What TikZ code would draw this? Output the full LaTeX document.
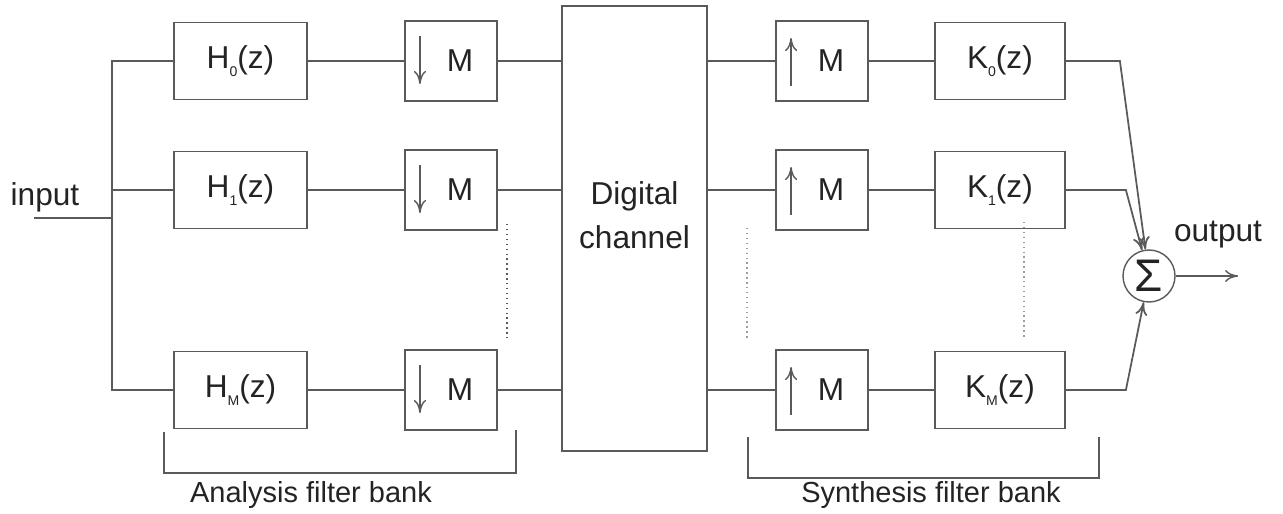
\documentclass[tikz,border=0pt]{standalone}
\usepackage{fontspec}
\setmainfont{Liberation Sans}
\usepackage{xcolor}
\usepackage{tikz}
\usetikzlibrary{positioning}
\usetikzlibrary{arrows.meta}

\definecolor{wire}{RGB}{90,90,90}
\definecolor{ink}{RGB}{35,35,35}
\newcommand{\sbs}[1]{\raisebox{-0.45ex}{\fontsize{8}{8}\selectfont #1}}

\tikzset{
	filt/.style={draw=wire, line width=1.1pt, minimum width=2.66cm, minimum height=1.54cm, inner sep=0pt},
	rate/.style={filt, minimum width=1.84cm, minimum height=1.6cm},
	sum/.style={draw=wire, circle, line width=0.8pt, minimum size=1.04cm, inner sep=0pt, font=\fontsize{26}{26}\selectfont},
	link/.style={draw=wire, line width=1.1pt},
	tip/.style={draw=wire, line width=0.8pt, -{To[length=2.6mm, width=2.4mm]}},
	bank/.style={font=\fontsize{16.5}{20}\selectfont}
}

\begin{document}
\begin{tikzpicture}[font=\fontsize{18}{21}\selectfont, text=ink]
		\useasboundingbox (0,0) rectangle (25.66,-10.28);

		\node[filt] (h0) at (4.81,-1.22) {H\sbs{0}(z)};
		\node[filt] (h1) at (4.81,-3.8) {H\sbs{1}(z)};
		\node[filt] (hM) at (4.81,-7.8) {H\sbs{M}(z)};

		\node[rate] (d0) [right = 1.92cm of h0] {\hspace{0.36cm}M};
		\node[rate] (d1) [right = 1.92cm of h1] {\hspace{0.36cm}M};
		\node[rate] (dM) [right = 1.92cm of hM] {\hspace{0.36cm}M};

		\node[filt, minimum width=2.9cm, minimum height=8.9cm,
			label={[align=center, yshift=0.26cm, font=\fontsize{18}{25}\selectfont]center:Digital\\channel}] (chan) at (12.69,-4.57) {};

		\node[rate] (u0) at (16.44,-1.22) {\hspace{0.36cm}M};
		\node[rate] (u1) at (16.44,-3.8) {\hspace{0.36cm}M};
		\node[rate] (uM) at (16.44,-7.8) {\hspace{0.36cm}M};

		\node[filt, minimum width=2.6cm] (k0) [right = 1.3cm of u0] {K\sbs{0}(z)};
		\node[filt, minimum width=2.6cm] (k1) [right = 1.3cm of u1] {K\sbs{1}(z)};
		\node[filt, minimum width=2.6cm] (kM) [right = 1.3cm of uM] {K\sbs{M}(z)};

		\node[sum] (sum) at (22.98,-5.52) {Σ};
		\node (inlbl) at (0.9,-3.94) {input};
		\node (outlbl) at (24.36,-4.7) {output};

		\coordinate (in) at (0.68,-4.36);
		\coordinate (split) at (2.24,-4.36);
		\draw[link] (in) -- (split);
		\draw[link] (h0.west) -| (split) |- (hM.west);
		\draw[link] (h1.west) -- (h1.west -| split);

		\draw[link] (h0) edge (d0);
		\draw[link] (h1) edge (d1);
		\draw[link] (hM) edge (dM);

		\draw[link] (d0.east) -- (d0 -| chan.west);
		\draw[link] (d1.east) -- (d1 -| chan.west);
		\draw[link] (dM.east) -- (dM -| chan.west);

		\draw[link] (u0 -| chan.east) -- (u0.west);
		\draw[link] (u1 -| chan.east) -- (u1.west);
		\draw[link] (uM -| chan.east) -- (uM.west);

		\draw[link] (u0) edge (k0);
		\draw[link] (u1) edge (k1);
		\draw[link] (uM) edge (kM);

		\draw[tip] ([xshift=0.32cm, yshift=-0.32cm]d0.north west) -- ++(0,-0.96);
		\draw[tip] ([xshift=0.32cm, yshift=-0.32cm]d1.north west) -- ++(0,-0.96);
		\draw[tip] ([xshift=0.32cm, yshift=-0.32cm]dM.north west) -- ++(0,-0.96);

		\draw[tip] ([xshift=0.32cm, yshift=0.32cm]u0.south west) -- ++(0,0.96);
		\draw[tip] ([xshift=0.32cm, yshift=0.32cm]u1.south west) -- ++(0,0.96);
		\draw[tip] ([xshift=0.32cm, yshift=0.32cm]uM.south west) -- ++(0,0.96);

		\draw[tip, line width=1pt] (k0.east) -- ++(1.08,0) -- (sum);
		\draw[tip, line width=1pt] (k1.east) -- ++(1.2,0) -- (sum);
		\draw[tip, line width=1pt] (kM.east) -- ++(1.2,0) -- (sum);
		\draw[tip] (sum.east) -- ++(1.25,0) coordinate (out);

		\draw[draw=wire, dotted, thick] (10.14,-4.48) -- (10.14,-6.76);
		\draw[draw=wire!60, dotted, thick] (14.94,-4.56) -- (14.94,-6.8);
		\draw[draw=wire!60, dotted, thick] (20.48,-4.44) -- (20.48,-6.76);

		\draw[link] (3.28,-8.64) |- (10.32,-9.46) -- (10.32,-8.6);
		\draw[link] (14.96,-8.74) |- (21.98,-9.56) -- (21.98,-8.74);
		\node[bank] (ana) at (6.22,-9.9) {Analysis filter bank};
		\node[bank] (syn) at (18.62,-9.9) {Synthesis filter bank};
	\end{tikzpicture}
\end{document}
